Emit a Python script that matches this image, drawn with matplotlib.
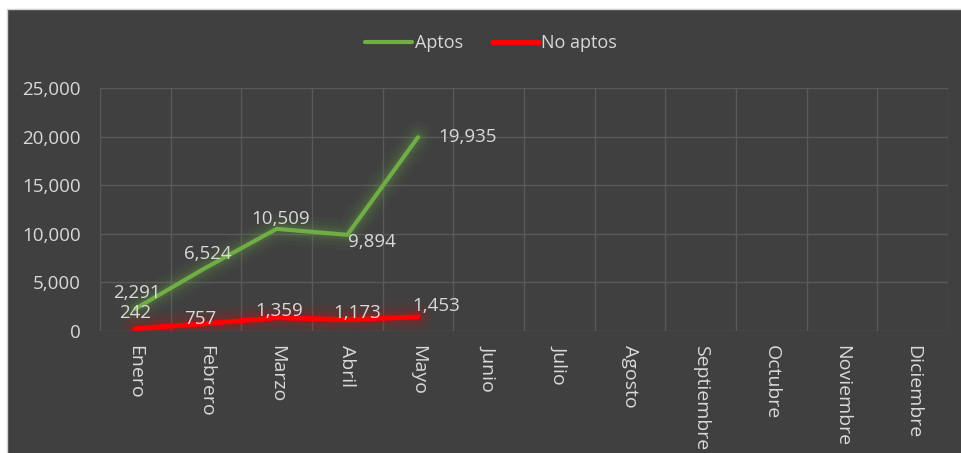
import matplotlib
matplotlib.use('Agg')
import matplotlib.pyplot as plt
import matplotlib.patches as mpatches

# Data
months = ["Enero", "Febrero", "Marzo", "Abril", "Mayo", "Junio", "Julio",
          "Agosto", "Septiembre", "Octubre", "Noviembre", "Diciembre"]
aptos = [2291, 6524, 10509, 9894, 19935]
no_aptos = [242, 757, 1359, 1173, 1453]
yticks = [0, 5000, 10000, 15000, 20000, 25000]

BG = "#404040"
GRID = "#595959"
TXT = "#d9d9d9"
GREEN = "#70ad47"
RED = "#ff0000"

plt.rcParams['font.family'] = ['Open Sans', 'DejaVu Sans']

fig = plt.figure(figsize=(9.61, 4.53), dpi=100)
fig.patch.set_facecolor("white")
# dark chart area with small white margin on top/left
fig.patches.append(mpatches.Rectangle((7 / 961, -0.01), 1, 1.01 - 9 / 453,
                                      transform=fig.transFigure,
                                      facecolor=BG, edgecolor="#d0d0d0",
                                      linewidth=1, zorder=-1))

ax = fig.add_axes([100 / 961, 1 - 331 / 453, 848 / 961, 243 / 453])
ax.set_facecolor(BG)

x = list(range(len(months)))
xa = x[:len(aptos)]

# soft glow under the lines
for lw, a in [(22, 0.04), (16, 0.06), (11, 0.08), (7, 0.12)]:
    ax.plot(xa, aptos, color=GREEN, lw=lw, alpha=a, solid_capstyle="round",
            solid_joinstyle="round", zorder=2)
    ax.plot(xa, no_aptos, color=RED, lw=lw, alpha=a, solid_capstyle="round",
            solid_joinstyle="round", zorder=2)

ax.plot(xa, aptos, color=GREEN, lw=3, solid_capstyle="round", label="Aptos", zorder=3)
ax.plot(xa, no_aptos, color=RED, lw=3.5, solid_capstyle="round", label="No aptos", zorder=3)

# data labels (offsets in points)
apt_off = [(1, 11.5), (1, 10), (3, 7), (18, -5), (36, 0)]
no_off = [(0, 11.5), (-4, 3.3), (1.5, 5), (7, 5), (13, 8)]
for xi, v, (dx, dy) in zip(xa, aptos, apt_off):
    ax.annotate(f"{v:,}", (xi, v), xytext=(dx, dy), textcoords="offset points",
                ha="center", va="center", color=TXT, fontsize=13.5, zorder=4)
for xi, v, (dx, dy) in zip(xa, no_aptos, no_off):
    ax.annotate(f"{v:,}", (xi, v), xytext=(dx, dy), textcoords="offset points",
                ha="center", va="center", color=TXT, fontsize=13.5, zorder=4)

ax.set_xlim(-0.5, len(months) - 0.5)
ax.set_ylim(0, 25000)
ax.set_yticks(yticks)
ax.set_yticklabels([f"{t:,}" for t in yticks], fontsize=13.5)
ax.set_xticks(x)
ax.set_xticklabels(months, rotation=270, va="top", ha="center", fontsize=14)
ax.set_xticks([i - 0.5 for i in range(len(months) + 1)], minor=True)

ax.grid(True, which="minor", axis="x", color=GRID, lw=1)
ax.grid(True, which="major", axis="y", color=GRID, lw=1)
ax.set_axisbelow(True)
ax.tick_params(axis="both", which="both", length=0, colors=TXT)
ax.tick_params(axis="y", pad=14)
ax.tick_params(axis="x", pad=10)
for s in ax.spines.values():
    s.set_visible(False)

leg = fig.legend(loc="center", bbox_to_anchor=(491 / 961, 1 - 43 / 453), ncol=2,
                 frameon=False, fontsize=13, labelcolor=TXT, handlelength=2.6,
                 handletextpad=0.15, columnspacing=1.6)

fig.savefig("out.png", dpi=100, facecolor=fig.get_facecolor())
